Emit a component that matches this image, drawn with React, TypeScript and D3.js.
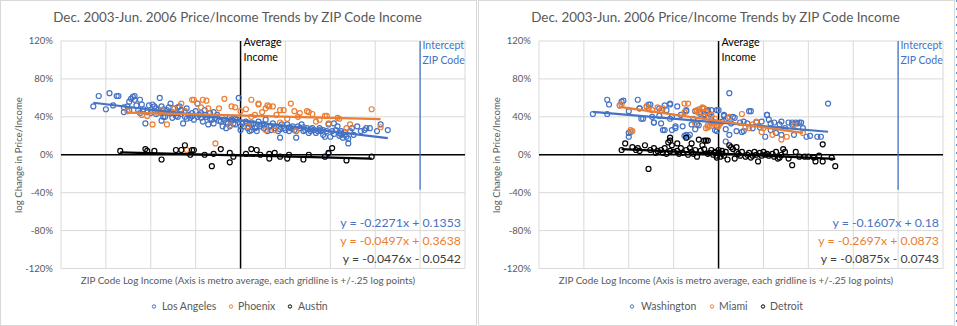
import React from "react";
import * as d3 from "d3";

// ---------- DATA ----------
// x: ZIP code log income relative to metro average (log points); y: log change in price/income (%)
const xTicks = [-1, -0.75, -0.5, -0.25, 0, 0.25, 0.5, 0.75, 1, 1.25];
const yTicks = [-1.2, -0.8, -0.4, 0, 0.4, 0.8, 1.2];
const chartTitle = "Dec. 2003-Jun. 2006 Price/Income Trends by ZIP Code Income";
const yAxisTitle = "log Change in Price/Income";
const xAxisTitle = "ZIP Code Log Income (Axis is metro average, each gridline is +/-.25 log points)";
const averageLabel = ["Average", "Income"];
const interceptLabel = ["Intercept", "ZIP Code"];
const interceptX = 1.0;
const interceptLineY = [1.2, -0.37];

const laPoints = [
  [-0.82, 51], [-0.79, 62], [-0.75, 48], [-0.73, 65], [-0.71, 52], [-0.69, 62], [-0.68, 62], [-0.65, 45],
  [-0.63, 51], [-0.62, 56], [-0.61, 59], [-0.6, 61], [-0.59, 62], [-0.59, 58], [-0.58, 52], [-0.56, 44],
  [-0.56, 58], [-0.55, 53], [-0.54, 48], [-0.53, 33], [-0.51, 52], [-0.5, 44], [-0.49, 53], [-0.48, 51],
  [-0.47, 49], [-0.46, 47], [-0.45, 60], [-0.44, 44], [-0.44, 51], [-0.43, 40], [-0.42, 40], [-0.41, 47],
  [-0.4, 44], [-0.39, 54], [-0.38, 39], [-0.37, 49], [-0.36, 44], [-0.35, 40], [-0.34, 51], [-0.33, 47],
  [-0.32, 33], [-0.31, 40], [-0.31, 46], [-0.3, 49], [-0.29, 42], [-0.28, 39], [-0.27, 44], [-0.26, 37],
  [-0.25, 46], [-0.24, 54], [-0.23, 42], [-0.22, 39], [-0.21, 35], [-0.2, 47], [-0.19, 40], [-0.18, 32],
  [-0.17, 44], [-0.16, 37], [-0.15, 33], [-0.14, 39], [-0.13, 42], [-0.11, 35], [-0.1, 30], [-0.09, 37],
  [-0.08, 28], [-0.07, 33], [-0.06, 39], [-0.06, 30], [-0.05, 37], [-0.04, 33], [-0.03, 32], [-0.02, 37],
  [-0.01, 60], [0.0, 30], [0.0, 26], [0.01, 33], [0.03, 35], [0.04, 28], [0.05, 25], [0.06, 32],
  [0.06, 26], [0.07, 33], [0.08, 28], [0.09, 25], [0.1, 35], [0.11, 30], [0.12, 32], [0.13, 28],
  [0.14, 37], [0.15, 25], [0.16, 30], [0.17, 26], [0.18, 33], [0.19, 28], [0.2, 30], [0.21, 25],
  [0.22, 18], [0.23, 32], [0.24, 28], [0.25, 26], [0.26, 32], [0.27, 25], [0.28, 28], [0.29, 30],
  [0.3, 26], [0.31, 18], [0.31, 25], [0.32, 30], [0.33, 28], [0.34, 32], [0.35, 25], [0.36, 26],
  [0.37, 28], [0.38, 23], [0.39, 25], [0.4, 28], [0.41, 26], [0.42, 23], [0.43, 25], [0.44, 26],
  [0.44, 28], [0.45, 25], [0.46, 21], [0.47, 19], [0.48, 25], [0.49, 32], [0.49, 1], [0.5, 19],
  [0.51, 25], [0.52, 33], [0.53, 26], [0.54, 30], [0.55, 23], [0.56, 25], [0.56, 21], [0.57, 18],
  [0.58, 21], [0.59, 19], [0.6, 12], [0.61, 25], [0.62, 28], [0.63, 21], [0.65, 30], [0.67, 25],
  [0.69, 26], [0.7, 28], [0.72, 28], [0.76, 25], [0.78, 32], [0.82, 26],
  [-0.57, 47], [-0.52, 45], [-0.47, 43], [-0.43, 48], [-0.38, 45], [-0.36, 41], [-0.33, 43], [-0.3, 38],
  [-0.27, 41], [-0.24, 40], [-0.2, 42], [-0.17, 38], [-0.12, 36], [-0.08, 34], [-0.03, 38], [0.02, 30],
  [0.05, 33], [0.09, 29], [0.13, 32], [0.17, 30], [0.22, 27], [0.27, 29], [0.35, 29], [0.39, 27],
  [0.46, 26], [0.52, 22], [0.55, 20], [0.58, 24], [0.6, 17], [-0.65, 50], [-0.62, 47], [-0.44, 36],
  [-0.4, 50], [-0.35, 50], [-0.22, 44], [-0.15, 45],
];

const phoenixPoints = [
  [-0.63, 46], [-0.55, 42], [-0.52, 41], [-0.49, 32], [-0.46, 44], [-0.44, 47], [-0.41, 32], [-0.37, 49],
  [-0.33, 54], [-0.31, 46], [-0.3, 5], [-0.27, 58], [-0.24, 54], [-0.22, 50], [-0.19, 57], [-0.18, 49],
  [-0.14, 12], [-0.12, 49], [-0.09, 59], [-0.06, 31], [-0.05, 51], [-0.03, 50], [0.03, 48], [0.04, 30],
  [0.06, 58], [0.08, 42], [0.1, 53], [0.14, 49], [0.15, 52], [0.18, 51], [0.19, 26], [0.2, 42],
  [0.24, 47], [0.28, 54], [0.3, 46], [0.31, 25], [0.32, 40], [0.37, 46], [0.4, 43], [0.44, 37],
  [0.47, 41], [0.49, 33], [0.54, 39], [0.59, 28], [0.61, 32], [0.73, 48], [0.78, 29],
  [0.1, 54], [0.16, 51], [0.38, 45], [0.42, 35], [0.48, 41], [0.55, 38], [0.14, 26], [0.22, 34],
  [0.12, 45], [0.22, 47], [0.33, 44], [0.26, 38], [0.0, 46], [0.06, 40], [-0.26, 58], [-0.21, 58],
];

const austinPoints = [
  [-0.67, 4], [-0.53, 6], [-0.52, 4], [-0.48, 4], [-0.44, -5], [-0.36, 5], [-0.33, 5], [-0.31, 10],
  [-0.28, 0], [-0.27, 5], [-0.26, 5], [-0.2, 0], [-0.16, -12], [-0.15, 1], [-0.11, 6], [-0.06, 2],
  [-0.06, -8], [-0.04, -2], [0.03, 1], [0.06, 6], [0.09, 5], [0.11, 0], [0.16, -4], [0.16, 1],
  [0.19, 2], [0.22, -2], [0.26, -4], [0.27, 0], [0.35, -5], [0.38, 0], [0.47, -2], [0.49, 2],
  [0.51, 7], [0.59, -6], [0.73, -2],
];

const washingtonPoints = [
  [-0.7, 43], [-0.62, 58], [-0.61, 53], [-0.62, 43], [-0.55, 52], [-0.53, 57], [-0.5, 46], [-0.5, 19],
  [-0.49, 24], [-0.45, 58], [-0.44, 49], [-0.43, 38], [-0.4, 51], [-0.38, 53], [-0.37, 40], [-0.36, 34],
  [-0.33, 49], [-0.32, 33], [-0.31, 26], [-0.3, 52], [-0.29, 47], [-0.27, 53], [-0.26, 40], [-0.24, 28],
  [-0.23, 51], [-0.21, 42], [-0.2, 30], [-0.19, 20], [-0.18, 47], [-0.17, 19], [-0.15, 32], [-0.14, 38],
  [-0.13, 46], [-0.11, 31], [-0.1, 43], [-0.09, 49], [-0.08, 43], [-0.06, 46], [-0.04, 40], [-0.03, 35],
  [-0.01, 47], [-0.01, 25], [0.02, 35], [0.03, 42], [0.04, 27], [0.05, 39], [0.06, 65], [0.06, 21],
  [0.07, 33], [0.08, 40], [0.1, 25], [0.12, 34], [0.13, 24], [0.14, 35], [0.16, 33], [0.17, 46],
  [0.19, 28], [0.21, 34], [0.23, 29], [0.24, 35], [0.26, 19], [0.27, 42], [0.28, 37], [0.29, 26],
  [0.31, 34], [0.32, 23], [0.34, 32], [0.35, 21], [0.37, 28], [0.39, 34], [0.41, 32], [0.42, 21],
  [0.44, 33], [0.46, 34], [0.47, 28], [0.49, 19], [0.55, 19], [0.61, 54],
  [0.0, 47], [0.03, 41], [0.04, 14], [0.09, 39], [0.14, 25], [0.18, 46], [0.27, 42], [0.29, 33],
  [0.35, 35], [0.41, 34], [0.43, 34], [0.45, 34], [0.51, 20], [0.57, 19], [-0.02, 26],
  [-0.54, 56], [-0.5, 23], [-0.44, 49], [-0.42, 38], [-0.39, 53], [-0.36, 34], [-0.33, 41], [-0.3, 26],
  [-0.27, 54], [-0.27, 38], [-0.26, 26], [-0.24, 30], [-0.18, 46], [-0.18, 21], [-0.16, 21], [-0.13, 27],
  [-0.12, 32], [-0.1, 45], [-0.08, 42], [-0.06, 47], [-0.05, 43], [-0.04, 47], [-0.01, 30],
];

const miamiPoints = [
  [-0.55, 52], [-0.49, 26], [-0.48, 25], [-0.34, 50], [-0.32, 47], [-0.31, 49], [-0.19, 45], [-0.17, 54],
  [-0.12, 47], [-0.11, 48], [-0.08, 49], [-0.07, 45], [-0.06, 29], [-0.06, 31], [-0.04, 42], [-0.03, 33],
  [-0.01, 31], [0.0, 30], [0.01, 33], [0.06, 40], [0.13, 43], [0.15, 29], [0.17, 28], [0.19, 32],
  [0.21, 35], [0.24, 24], [0.25, 28], [0.3, 21], [0.35, 16], [0.38, 19], [0.42, 31], [0.47, 23],
  [-0.54, 53], [-0.4, 51], [-0.39, 48], [-0.37, 47], [-0.19, 54], [-0.13, 33], [-0.12, 46],
  [-0.11, 44], [-0.09, 50], [-0.08, 40], [-0.07, 28], [-0.05, 30], [-0.04, 34], [-0.02, 38],
];

const detroitPoints = [
  [-0.54, 5], [-0.52, 12], [-0.48, 8], [-0.46, 5], [-0.45, 7], [-0.41, 10], [-0.39, -15], [-0.38, 5],
  [-0.36, 7], [-0.34, 4], [-0.32, 5], [-0.31, 2], [-0.3, 7], [-0.28, 13], [-0.27, 18], [-0.27, 15],
  [-0.26, 10], [-0.27, 4], [-0.25, 3], [-0.23, 12], [-0.23, 4], [-0.21, 7], [-0.2, 2], [-0.18, 18],
  [-0.18, 5], [-0.17, 0], [-0.16, 7], [-0.15, 12], [-0.15, 3], [-0.13, 5], [-0.12, -2], [-0.11, 16],
  [-0.1, 4], [-0.09, 10], [-0.08, 15], [-0.08, 6], [-0.07, 15], [-0.06, 15], [-0.06, 1], [-0.04, 5],
  [-0.03, 0], [-0.02, 3], [-0.01, -1], [0.0, 2], [0.0, 5], [0.02, 1], [0.04, 3], [0.06, 10],
  [0.07, 8], [0.08, 6], [0.05, -5], [0.09, -4], [0.1, 3], [0.1, 8], [0.12, -1], [0.13, 3],
  [0.15, -2], [0.16, 0], [0.18, -3], [0.19, -1], [0.2, 3], [0.21, 0], [0.22, -7], [0.23, 2],
  [0.25, 3], [0.26, 0], [0.27, 1], [0.28, -1], [0.3, 1], [0.32, 3], [0.33, -4], [0.34, -3],
  [0.35, 0], [0.36, 6], [0.37, 3], [0.39, -4], [0.41, -11], [0.43, 3], [0.45, -2], [0.48, -2],
  [0.5, -2], [0.53, -3], [0.54, -7], [0.56, -1], [0.58, 11], [0.58, -7], [0.63, -3], [0.65, -12],
  [0.01, -2], [0.02, 4], [-0.01, -3], [-0.02, 2], [-0.44, 4], [-0.35, 2], [-0.29, 1], [-0.22, 1],
  [-0.14, 1], [-0.05, 2], [0.03, -1], [0.11, 1], [0.17, 2], [0.24, -1], [0.31, -2],
];

// trendline equations (x measured from the intercept ZIP code)
const leftSlopes = [-0.2271, -0.0497, -0.0476];
const leftIntercepts = [0.1353, 0.3638, -0.0542];
const leftRanges = [[-0.82, 0.82], [-0.63, 0.78], [-0.67, 0.73]];
const rightSlopes = [-0.1607, -0.2697, -0.0875];
const rightIntercepts = [0.18, 0.0873, -0.0743];
const rightRanges = [[-0.7, 0.61], [-0.55, 0.47], [-0.54, 0.65]];

const leftNames = ["Los Angeles", "Phoenix", "Austin"];
const rightNames = ["Washington", "Miami", "Detroit"];
const seriesColors = ["#4472C4", "#ED7D31", "#000000"];
const labelColors = ["#4472C4", "#ED7D31", "#404040"];

// ---------- CHART ----------
const FONT = "Lato, 'Open Sans', sans-serif";
const fmt = d3.formatLocale({ decimal: ".", thousands: ",", grouping: [3], currency: ["$", ""], minus: "-" }).format(".0%");

const x = d3.scaleLinear().domain([-1, 1.25]).range([61, 465]);
const y = d3.scaleLinear().domain([-1.2, 1.2]).range([268.5, 41]);

function eqText(m: number, b: number) {
  return `y = ${m}x ${b < 0 ? "-" : "+"} ${Math.abs(b)}`;
}

type Series = { name: string; points: number[][]; m: number; b: number; range: number[] };

function Panel({ ox, series }: { ox: number; series: Series[] }) {
  const trend = (s: Series) =>
    d3.line<number>().x((v) => x(v)).y((v) => y(s.m * (v - interceptX) + s.b))(s.range) || "";
  const legendX = [
    [154, 162],
    [231, 238],
    [290, 298],
  ];
  const legendXR = [
    [154, 163],
    [234, 241],
    [285, 292],
  ];
  const lx = ox > 0 ? legendXR : legendX;
  return (
    <g transform={`translate(${ox},0)`}>
      <rect x={0.5} y={0.5} width={476} height={325} fill="#fff" stroke="#D9D9D9" />
      <text x={237.5} y={22} textAnchor="middle" fontSize={13.4} fill="#595959" fontFamily={FONT}>
        {chartTitle}
      </text>
      {/* gridlines */}
      {xTicks.map((t) => (
        <line key={"gx" + t} x1={x(t)} x2={x(t)} y1={y(1.2)} y2={y(-1.2)} stroke="#D9D9D9" strokeWidth={1} />
      ))}
      {yTicks.map((t) => (
        <line key={"gy" + t} x1={x(-1)} x2={x(1.25)} y1={y(t)} y2={y(t)} stroke="#D9D9D9" strokeWidth={1} />
      ))}
      {yTicks.map((t) => (
        <text key={"ty" + t} x={53} y={y(t) + 3.3} textAnchor="end" fontSize={9.5} fill="#595959" fontFamily={FONT}>
          {fmt(t)}
        </text>
      ))}
      {/* zero axis and average income line */}
      <line x1={x(-1)} x2={x(1.25)} y1={y(0)} y2={y(0)} stroke="#000" strokeWidth={1.5} />
      <line x1={x(0)} x2={x(0)} y1={y(1.2)} y2={y(-1.2)} stroke="#000" strokeWidth={1.5} />
      <line x1={x(interceptX)} x2={x(interceptX)} y1={y(interceptLineY[0])} y2={y(interceptLineY[1])} stroke="#4472C4" strokeWidth={1.25} />
      {/* points */}
      {series.map((s, i) => (
        <g key={"s" + i}>
          {s.points.map((p, j) => (
            <circle key={j} cx={x(p[0])} cy={y(p[1] / 100)} r={2.5} fill="none" stroke={seriesColors[i]} strokeWidth={1.2} />
          ))}
        </g>
      ))}
      {/* trendlines */}
      {series.map((s, i) => (
        <path key={"t" + i} d={trend(s)} stroke={seriesColors[i]} strokeWidth={2.25} fill="none" />
      ))}
      {/* annotations */}
      <text x={243.5} y={46} fontSize={10.7} fill="#000" fontFamily={FONT}>{averageLabel[0]}</text>
      <text x={243.5} y={61} fontSize={10.7} fill="#000" fontFamily={FONT}>{averageLabel[1]}</text>
      <text x={422.5} y={48.5} fontSize={10.5} fill="#4472C4" fontFamily={FONT}>{interceptLabel[0]}</text>
      <text x={422.5} y={63.5} fontSize={10.5} fill="#4472C4" fontFamily={FONT}>{interceptLabel[1]}</text>
      {series.map((s, i) => (
        <text key={"e" + i} x={461} y={226.5 + i * 18} textAnchor="end" fontSize={12.3} fill={labelColors[i]} fontFamily={FONT}>
          {eqText(s.m, s.b)}
        </text>
      ))}
      {/* axis titles */}
      <text x={248} y={284} textAnchor="middle" fontSize={9.85} fill="#595959" fontFamily={FONT}>{xAxisTitle}</text>
      <text transform={`translate(22,155) rotate(-90)`} textAnchor="middle" fontSize={9.6} fill="#595959" fontFamily={FONT}>
        {yAxisTitle}
      </text>
      {/* legend */}
      {series.map((s, i) => (
        <g key={"l" + i}>
          <circle cx={lx[i][0]} cy={306.5} r={1.7} fill="none" stroke={seriesColors[i]} strokeWidth={1} />
          <text x={lx[i][1]} y={310} fontSize={10.5} fill="#595959" fontFamily={FONT}>{s.name}</text>
        </g>
      ))}
    </g>
  );
}

export default function App() {
  const left: Series[] = [laPoints, phoenixPoints, austinPoints].map((pts, i) => ({
    name: leftNames[i], points: pts, m: leftSlopes[i], b: leftIntercepts[i], range: leftRanges[i],
  }));
  const right: Series[] = [washingtonPoints, miamiPoints, detroitPoints].map((pts, i) => ({
    name: rightNames[i], points: pts, m: rightSlopes[i], b: rightIntercepts[i], range: rightRanges[i],
  }));
  return (
    <svg width={957} height={326} style={{ position: "absolute", left: 0, top: 0, background: "#fff" }}>
      <rect x={0} y={0} width={957} height={326} fill="#fff" />
      <Panel ox={0} series={left} />
      <Panel ox={478} series={right} />
      <line x1={956.5} x2={956.5} y1={0} y2={326} stroke="#5B9BD5" strokeDasharray="2,6" strokeWidth={1} />
    </svg>
  );
}
